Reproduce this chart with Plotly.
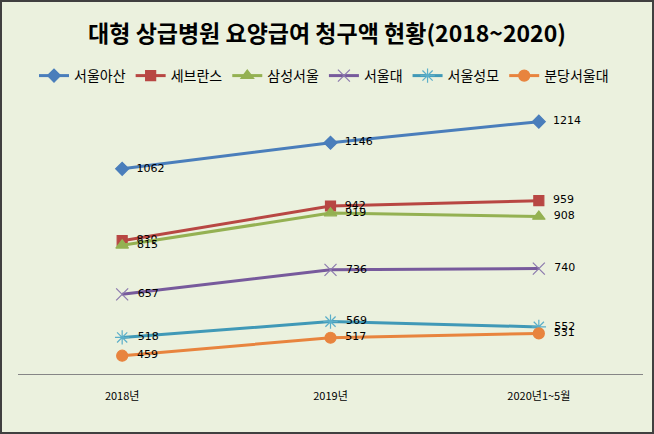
import plotly.graph_objects as go

categories = ["2018년", "2019년", "2020년1~5월"]
names = ["서울아산", "세브란스", "삼성서울", "서울대", "서울성모", "분당서울대"]
asan = [1062, 1146, 1214]
severance = [830, 942, 959]
samsung = [815, 919, 908]
snu = [657, 736, 740]
stmary = [518, 569, 552]
bundang = [459, 517, 531]
series = [asan, severance, samsung, snu, stmary, bundang]

colors = ["#4A7EBB", "#B84743", "#94B152", "#775A9C", "#4099B7", "#E8843E"]
marker_colors = ["#4A7EBB", "#B84743", "#94B152", "#8C7AAE", "#5BAFC9", "#E8843E"]
symbols = ["diamond", "square", "triangle-up", "x-thin-open", "asterisk-open", "circle"]
sizes = [10, 10, 11, 12, 12, 11]

W, H = 654, 434
L, R, T, B = 18, 11, 95, 60
pw, ph = W - L - R, H - T - B

fig = go.Figure()
for name, vals, c, mc, s, sz in zip(names, series, colors, marker_colors, symbols, sizes):
    fig.add_trace(go.Scatter(
        x=categories, y=vals, name=name, mode="lines+markers+text",
        text=["  " + str(v) for v in vals], textposition="middle right",
        textfont=dict(family="DejaVu Sans", size=11, color="black"),
        line=dict(color=c, width=3),
        marker=dict(symbol=s, size=sz, color=mc, line=dict(color=mc, width=1.2)),
        cliponaxis=False,
    ))

def px_x(p):
    return (p - L) / pw

def px_y(p):
    return (H - B - p) / ph

fig.add_shape(type="rect", xref="paper", yref="paper",
              x0=px_x(1), x1=px_x(653), y0=px_y(433), y1=px_y(1),
              line=dict(color="#404040", width=2), layer="below")

fig.update_layout(
    width=W, height=H,
    margin=dict(l=L, r=R, t=T, b=B),
    paper_bgcolor="#EBF1DE", plot_bgcolor="#EBF1DE",
    title=dict(text="<b>대형 상급병원 요양급여 청구액 현황(2018~2020)</b>",
               x=0.5, xanchor="center", y=1 - 34 / H, yanchor="middle",
               font=dict(family="Noto Sans CJK KR", size=23, color="black")),
    showlegend=True,
    legend=dict(orientation="h", x=px_x(34), xanchor="left", y=px_y(76), yanchor="middle",
                font=dict(family="Noto Sans CJK KR", size=14, color="black"),
                bgcolor="rgba(0,0,0,0)", itemwidth=30, tracegroupgap=0),
    xaxis=dict(range=[-0.5, 2.5], showline=True, linecolor="#868686", linewidth=1,
               showgrid=False, zeroline=False, ticks="", ticklabelstandoff=12,
               tickfont=dict(family="Noto Sans CJK KR", size=11, color="black")),
    yaxis=dict(range=[400, 1300], visible=False, showgrid=False, zeroline=False),
)

fig.write_html("out.html", config={"displayModeBar": False},
               post_script="document.body.style.margin='0';document.body.style.padding='0';")
